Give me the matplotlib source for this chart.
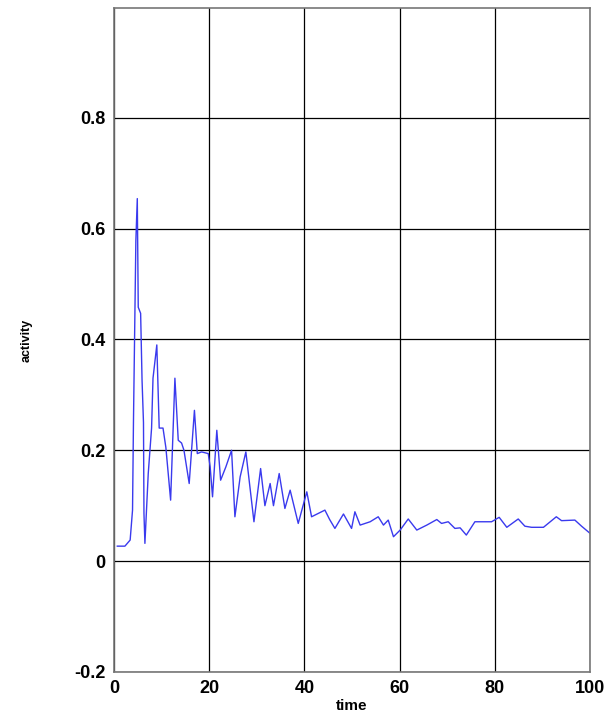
import matplotlib
matplotlib.use("Agg")
from matplotlib import pyplot as plt

# activity over time
time = [0.7, 2.3, 3.4, 3.9, 4.1, 4.6, 4.9, 5.1, 5.6, 5.9, 6.2, 6.3, 6.5, 7.2, 7.9, 8.2, 9.0,
        9.5, 10.3, 10.9, 11.9, 12.8, 13.5, 14.2, 14.7, 15.8, 16.9, 17.5, 18.4, 19.8, 20.2,
        20.7, 21.6, 22.4, 23.5, 24.7, 25.4, 26.5, 27.7, 29.4, 30.8, 31.7, 32.8, 33.5, 34.7,
        35.9, 37.0, 38.7, 40.5, 41.5, 42.9, 44.3, 45.3, 46.4, 48.2, 49.9, 50.6, 51.7, 53.8,
        55.5, 56.6, 57.6, 58.7, 60.1, 61.8, 63.6, 65.7, 67.8, 68.8, 70.2, 71.6, 72.7, 74.0,
        75.8, 79.3, 80.9, 82.5, 84.9, 86.3, 87.7, 90.2, 92.9, 94.0, 96.8, 98.2, 100.0]
activity = [0.027, 0.027, 0.038, 0.092, 0.254, 0.578, 0.654, 0.458, 0.447, 0.326, 0.25,
            0.086, 0.032, 0.158, 0.24, 0.33, 0.39, 0.24, 0.24, 0.205, 0.11, 0.33, 0.218,
            0.213, 0.2, 0.14, 0.272, 0.194, 0.197, 0.194, 0.17, 0.116, 0.236, 0.146, 0.17,
            0.2, 0.08, 0.152, 0.197, 0.071, 0.167, 0.1, 0.14, 0.1, 0.158, 0.095, 0.128,
            0.068, 0.125, 0.08, 0.086, 0.092, 0.075, 0.059, 0.085, 0.059, 0.089, 0.065,
            0.071, 0.08, 0.065, 0.074, 0.044, 0.056, 0.076, 0.056, 0.065, 0.075, 0.068,
            0.071, 0.059, 0.06, 0.047, 0.071, 0.071, 0.079, 0.061, 0.076, 0.063, 0.061,
            0.061, 0.08, 0.073, 0.074, 0.063, 0.05]

x_ticks = [0, 20, 40, 60, 80, 100]
y_ticks = [-0.2, 0, 0.2, 0.4, 0.6, 0.8]
y_tick_labels = ["-0.2", "0", "0.2", "0.4", "0.6", "0.8"]

plt.rcParams["font.family"] = ["Liberation Sans", "DejaVu Sans"]

fig = plt.figure(figsize=(6.16, 7.19), dpi=100)
ax = fig.add_axes([0.185, 0.0654, 0.773, 0.9236])

ax.plot(time, activity, color="#3a3aee", linewidth=1.0)

ax.set_xlim(0, 100)
ax.set_ylim(-0.2, 0.998)
ax.set_xticks(x_ticks)
ax.set_yticks(y_ticks)
ax.set_yticklabels(y_tick_labels)
ax.grid(True, color="black", linewidth=0.9)
ax.tick_params(length=0, labelsize=13, pad=6)
for lbl in ax.get_xticklabels() + ax.get_yticklabels():
    lbl.set_fontweight("bold")
for sp in ax.spines.values():
    sp.set_color("#777777")
    sp.set_linewidth(1.2)

ax.set_xlabel("time", fontsize=11, fontweight="bold", labelpad=1)
ax.set_ylabel("activity", fontsize=9, fontweight="bold", labelpad=30)

fig.savefig("out.png", dpi=100)
